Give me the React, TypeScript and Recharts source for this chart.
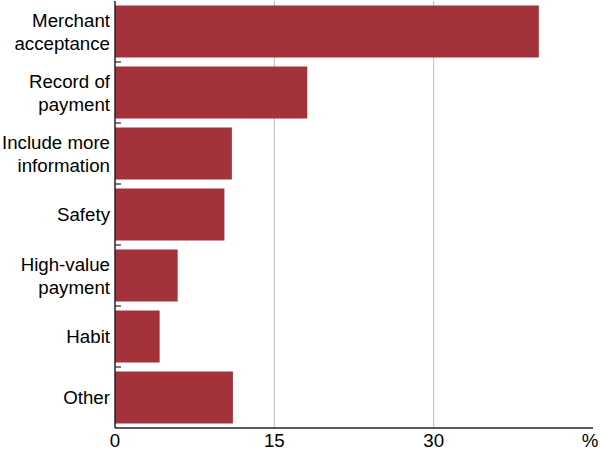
import { BarChart, Bar, XAxis, YAxis, CartesianGrid } from 'recharts';

const labels = [
  ['Merchant', 'acceptance'],
  ['Record of', 'payment'],
  ['Include more', 'information'],
  ['Safety'],
  ['High-value', 'payment'],
  ['Habit'],
  ['Other'],
];
const shares = [39.9, 18.1, 11.0, 10.3, 5.9, 4.2, 11.1];
const xTicks = [0, 15, 30, 45];

const data = labels.map((l, i) => ({ name: l.join('\n'), value: shares[i] }));

const W = 600;
const H = 451;
const M = { top: 1, right: 7, left: 0, bottom: 0 };
const Y_W = 115;
const X_H = 23;
const band = (H - M.top - M.bottom - X_H) / labels.length;
const font = '"Liberation Sans", Arial, sans-serif';

const CatTick = (props: any) => {
  const { x, y, payload, index } = props;
  const lines = String(payload.value).split('\n');
  const step = 23;
  const start = -((lines.length - 1) * step) / 2;
  return (
    <g>
      {lines.map((t, i) => (
        <text key={i} x={x} y={y + start + i * step} dy={6.5} textAnchor="end" fontSize={18.7} fontFamily={font} fill="#000">
          {t}
        </text>
      ))}
      {index < labels.length - 1 && (
        <line x1={x + 5} x2={x + 11} y1={y + band / 2} y2={y + band / 2} stroke="#333" strokeWidth={1.3} />
      )}
    </g>
  );
};

const ValTick = (props: any) => {
  const { x, y, payload } = props;
  const isLast = payload.value === 45;
  return (
    <text x={isLast ? x - 3 : x} y={y} dy={11} textAnchor="middle" fontSize={18.7} fontFamily={font} fill="#000">
      {isLast ? '%' : payload.value}
    </text>
  );
};

export default function App() {
  return (
    <div style={{ position: 'absolute', left: 0, top: 0, background: '#fff' }}>
      <BarChart width={W} height={H} data={data} layout="vertical" margin={M} barCategoryGap="7.4%">
        <CartesianGrid horizontal={false} vertical={true} stroke="#bdbdbd" verticalValues={[15, 30]} />
        <XAxis
          type="number"
          domain={[0, 45]}
          ticks={xTicks}
          height={X_H}
          axisLine={{ stroke: '#222', strokeWidth: 1.5 }}
          tickLine={false}
          tick={<ValTick />}
          interval={0}
        />
        <XAxis xAxisId="top" orientation="top" type="number" domain={[0, 45]} height={0} tick={false} tickLine={false} axisLine={{ stroke: '#222', strokeWidth: 1.5 }} />
        <YAxis
          type="category"
          dataKey="name"
          width={Y_W}
          axisLine={{ stroke: '#222', strokeWidth: 1.5 }}
          tickLine={false}
          tickSize={0}
          tickMargin={5}
          tick={<CatTick />}
          interval={0}
        />
        <YAxis yAxisId="right" orientation="right" type="category" dataKey="name" width={0} tick={false} tickLine={false} axisLine={{ stroke: '#222', strokeWidth: 1.5 }} />
        <Bar dataKey="value" fill="#a3323b" isAnimationActive={false} />
      </BarChart>
    </div>
  );
}
